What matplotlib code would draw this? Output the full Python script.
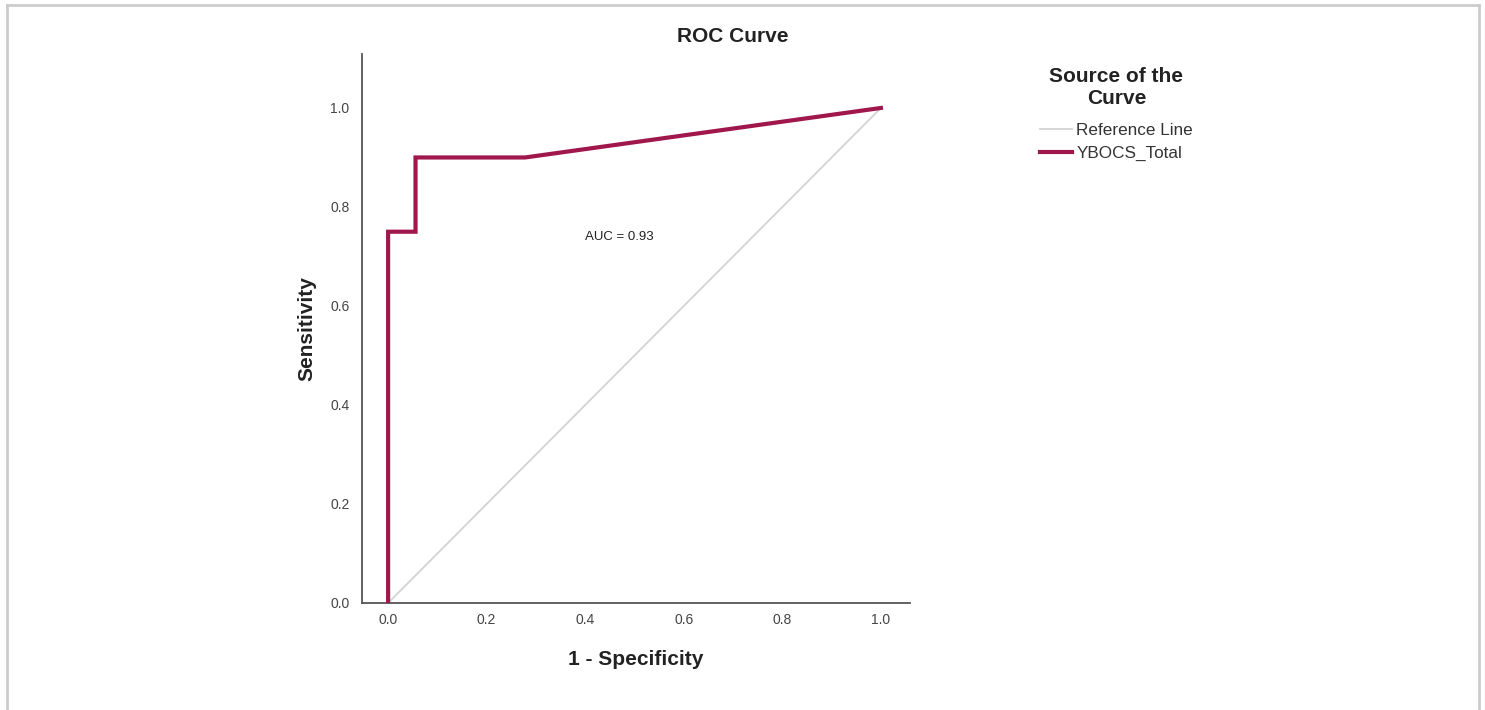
"""ROC curve for YBOCS_Total, SPSS-style layout."""

import matplotlib.pyplot as plt
from matplotlib.lines import Line2D

# ROC points (1 - specificity, sensitivity)
fpr = [0.0, 0.0, 0.0556, 0.0556, 0.278, 1.0]
tpr = [0.0, 0.75, 0.75, 0.90, 0.90, 1.0]
ref_line = [0.0, 1.0]
auc_value = 0.93
ticks = [0.0, 0.2, 0.4, 0.6, 0.8, 1.0]

CURVE_COLOR = "#a0174d"
REF_COLOR = "#d3d3d3"
AXIS_COLOR = "#555555"
TEXT_COLOR = "#222222"

plt.rcParams["font.family"] = ["Liberation Sans", "DejaVu Sans"]

fig = plt.figure(figsize=(14.85, 7.1), dpi=100)
ax = fig.add_axes([362 / 1485, 1 - 603 / 710, (910 - 362) / 1485, (603 - 54) / 710])

ax.plot(ref_line, ref_line, color=REF_COLOR, lw=1.3, zorder=2)
ax.plot(fpr, tpr, color=CURVE_COLOR, lw=3.0, solid_joinstyle="miter", zorder=3)
ax.text(0.469, 0.739, f"AUC = {auc_value:.2f}", fontsize=9.5, ha="center", va="center", color=TEXT_COLOR)

ax.set_xlim(-0.053, 1.059)
ax.set_ylim(0.0, 1.109)
ax.set_xticks(ticks)
ax.set_yticks(ticks)
ax.set_xticklabels([f"{t:.1f}" for t in ticks])
ax.set_yticklabels([f"{t:.1f}" for t in ticks])
ax.tick_params(length=0, labelsize=10, colors="#444444")
ax.tick_params(axis="x", pad=7)
ax.tick_params(axis="y", pad=9)
for side in ("top", "right"):
    ax.spines[side].set_visible(False)
for side in ("left", "bottom"):
    ax.spines[side].set_color(AXIS_COLOR)
    ax.spines[side].set_linewidth(1.3)

ax.set_xlabel("1 - Specificity", fontsize=15, fontweight="bold", labelpad=17, color=TEXT_COLOR)
ax.set_ylabel("Sensitivity", fontsize=15, fontweight="bold", labelpad=10, color=TEXT_COLOR)
fig.text(733 / 1485, 1 - 36 / 710, "ROC Curve", fontsize=15, fontweight="bold",
         ha="center", va="center", color=TEXT_COLOR)

handles = [
    Line2D([], [], color=REF_COLOR, lw=1.3),
    Line2D([], [], color=CURVE_COLOR, lw=3.0),
]
leg = fig.legend(
    handles,
    ["Reference Line", "YBOCS_Total"],
    title="Source of the\nCurve",
    loc="upper left",
    bbox_to_anchor=(1009 / 1485, 1 - 36 / 710),
    frameon=False,
    fontsize=12.3,
    title_fontproperties={"weight": "bold", "size": 15},
    handlelength=1.9,
    handletextpad=0.25,
    labelspacing=0.45,
    borderpad=1.3,
)
# a wider gap between the legend title and its entries
leg._legend_box.sep = 11
leg.get_title().set_multialignment("center")
leg.get_title().set_color(TEXT_COLOR)
for txt in leg.get_texts():
    txt.set_color("#333333")

# light grey frame around the output panel (no bottom edge)
frame_kw = dict(color="#cccccc", lw=2, transform=fig.transFigure)
fig.add_artist(Line2D([7 / 1485, 7 / 1485], [0, 1 - 5 / 710], **frame_kw))
fig.add_artist(Line2D([7 / 1485, 1479 / 1485], [1 - 5 / 710, 1 - 5 / 710], **frame_kw))
fig.add_artist(Line2D([1479 / 1485, 1479 / 1485], [0, 1 - 5 / 710], **frame_kw))

fig.savefig("out.png", dpi=100)
